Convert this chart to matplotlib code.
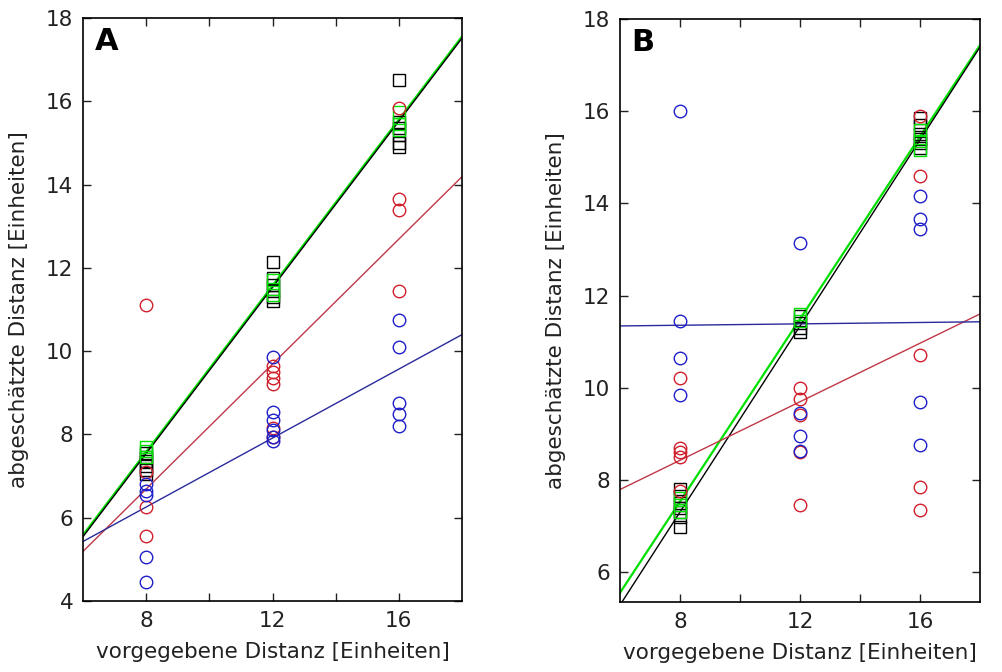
import matplotlib
matplotlib.use("Agg")
import matplotlib.pyplot as plt
import numpy as np

plt.rcParams['font.family'] = ['DejaVu Sans']

# ---------------- Panel A data ----------------
A_sq_black_x = [8, 8, 8, 8, 8, 8, 12, 12, 12, 12, 12, 12, 16, 16, 16, 16, 16, 16]
A_sq_black_y = [7.55, 7.45, 7.35, 7.25, 7.15, 7.05, 12.15, 11.75, 11.6, 11.45, 11.3, 11.2,
                16.5, 15.5, 15.35, 15.2, 15.0, 14.9]
A_sq_green_x = [8, 8, 8, 12, 12, 12, 16, 16, 16]
A_sq_green_y = [7.7, 7.6, 7.45, 11.7, 11.5, 11.35, 15.75, 15.45, 15.3]
A_red_x = [8, 8, 8, 8, 12, 12, 12, 12, 12, 12, 16, 16, 16, 16]
A_red_y = [11.1, 7.1, 6.25, 5.55, 9.65, 9.5, 9.35, 9.2, 8.15, 7.95, 15.85, 13.65, 13.4, 11.45]
A_blue_x = [8, 8, 8, 8, 8, 12, 12, 12, 12, 12, 12, 16, 16, 16, 16, 16]
A_blue_y = [6.8, 6.65, 6.55, 5.05, 4.45, 9.85, 8.55, 8.35, 8.1, 7.95, 7.85, 10.75, 10.1, 8.75, 8.5, 8.2]
# fitted lines (slope, intercept)
A_fit_black = (0.9975, -0.44)
A_fit_green = (0.9975, -0.40)
A_fit_red = (0.75, 0.69)
A_fit_blue = (0.414, 2.945)

# ---------------- Panel B data ----------------
B_sq_black_x = [8, 8, 8, 8, 8, 8, 8, 12, 12, 12, 12, 16, 16, 16, 16, 16, 16]
B_sq_black_y = [7.8, 7.65, 7.5, 7.4, 7.3, 7.2, 6.97, 11.55, 11.4, 11.3, 11.2,
                15.85, 15.7, 15.5, 15.4, 15.3, 15.2]
B_sq_green_x = [8, 8, 8, 12, 12, 16, 16, 16]
B_sq_green_y = [7.6, 7.45, 7.3, 11.6, 11.45, 15.6, 15.35, 15.15]
B_red_x = [8, 8, 8, 8, 8, 12, 12, 12, 12, 12, 16, 16, 16, 16, 16]
B_red_y = [10.2, 8.7, 8.6, 8.5, 7.75, 10.0, 9.75, 9.4, 8.6, 7.45, 15.9, 14.6, 10.7, 7.85, 7.35]
B_blue_x = [8, 8, 8, 8, 12, 12, 12, 12, 16, 16, 16, 16, 16]
B_blue_y = [16.0, 11.45, 10.65, 9.85, 13.15, 9.45, 8.95, 8.62, 14.15, 13.65, 13.45, 9.7, 8.75]
B_fit_black = (1.009, -0.77)
B_fit_green = (0.99, -0.39)
B_fit_red = (0.3175, 5.885)
B_fit_blue = (0.0075, 11.295)

x_ticks = [8, 10, 12, 14, 16]
x_ticklabels = ['8', '', '12', '', '16']

C_BLUE = '#1f1fc8'
C_RED = '#d0202c'
C_GREEN = '#00e000'
L_BLUE = '#2a2a9a'
L_RED = '#c03848'

fig = plt.figure(figsize=(10.03, 6.72), dpi=100)
axA = fig.add_axes([83/1003, 71/672, 379/1003, 583/672])
axB = fig.add_axes([620/1003, 70/672, 360/1003, 583/672])


def draw(ax, sqb, sqg, red, blue, fits, ylim, yticks, label):
    xs = np.array([5.0, 19.0])
    fb, fg, fr, fbl = fits
    ax.plot(xs, fg[0]*xs + fg[1], color=C_GREEN, lw=1.6, zorder=2)
    ax.plot(xs, fb[0]*xs + fb[1], color='black', lw=1.0, zorder=2)
    ax.plot(xs, fr[0]*xs + fr[1], color=L_RED, lw=1.0, zorder=2)
    ax.plot(xs, fbl[0]*xs + fbl[1], color=L_BLUE, lw=1.0, zorder=2)
    ax.plot(sqb[0], sqb[1], 's', mfc='none', mec='black', ms=9, mew=1.0, ls='none', zorder=3)
    ax.plot(sqg[0], sqg[1], 's', mfc='none', mec=C_GREEN, ms=9, mew=1.0, ls='none', zorder=3)
    ax.plot(red[0], red[1], 'o', mfc='none', mec=C_RED, ms=9, mew=1.0, ls='none', zorder=4)
    ax.plot(blue[0], blue[1], 'o', mfc='none', mec=C_BLUE, ms=9, mew=1.0, ls='none', zorder=4)
    ax.set_xlim(6, 18)
    ax.set_ylim(*ylim)
    ax.set_xticks(x_ticks)
    ax.set_xticklabels(x_ticklabels)
    ax.set_yticks(yticks)
    ax.tick_params(direction='in', length=6, width=1, top=True, right=True,
                   labelsize=15.5, pad=7, colors='#222222')
    for s in ax.spines.values():
        s.set_linewidth(1.2)
    ax.set_xlabel('vorgegebene Distanz [Einheiten]', fontsize=15.5, labelpad=8, color='#222222')
    ax.set_ylabel('abgeschätzte Distanz [Einheiten]', fontsize=15.5, labelpad=12, color='#222222')
    ax.text(0.03, 0.985, label, transform=ax.transAxes, ha='left', va='top',
            fontsize=22, fontweight='heavy', family='DejaVu Sans')


draw(axA, (A_sq_black_x, A_sq_black_y), (A_sq_green_x, A_sq_green_y),
     (A_red_x, A_red_y), (A_blue_x, A_blue_y),
     (A_fit_black, A_fit_green, A_fit_red, A_fit_blue),
     (4, 18), [4, 6, 8, 10, 12, 14, 16, 18], 'A')
draw(axB, (B_sq_black_x, B_sq_black_y), (B_sq_green_x, B_sq_green_y),
     (B_red_x, B_red_y), (B_blue_x, B_blue_y),
     (B_fit_black, B_fit_green, B_fit_red, B_fit_blue),
     (5.35, 18), [6, 8, 10, 12, 14, 16, 18], 'B')

fig.savefig('out.png', dpi=100)
